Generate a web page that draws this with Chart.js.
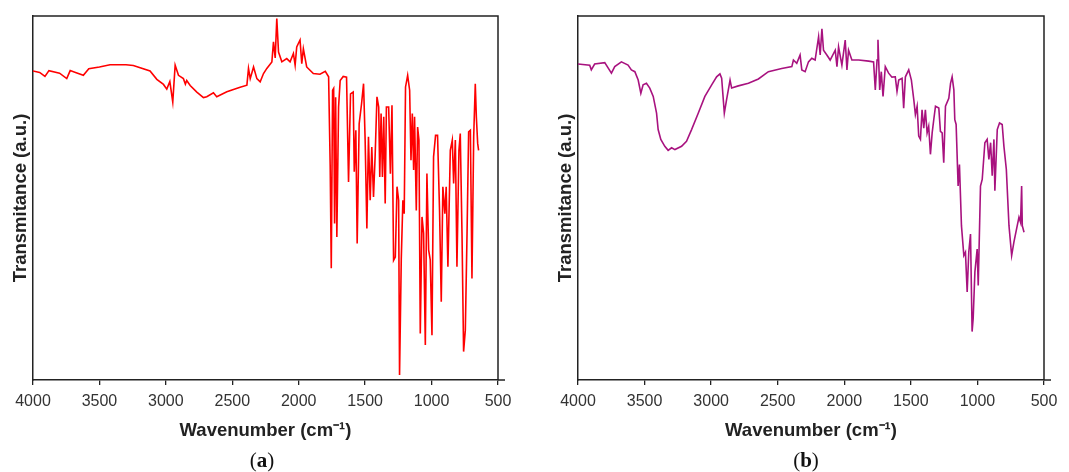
<!DOCTYPE html>
<html>
<head>
<meta charset="utf-8">
<script src="https://cdn.jsdelivr.net/npm/chart.js@4/dist/chart.umd.min.js"></script>
<style>
  html, body { margin: 0; padding: 0; background: #fff; overflow: hidden; }
  .panel { position: absolute; top: 0; width: 525px; height: 472px; }
  .panel canvas { display: block; }
  .tag {
    position: absolute; top: 448px; width: 60px; text-align: center;
    font-family: 'Liberation Serif', 'DejaVu Serif', serif; font-size: 21px; color: #111;
  }
</style>
</head>
<body>
<div class="panel" style="left:0px"><canvas id="chartA" width="525" height="472"></canvas></div>
<div class="panel" style="left:545px"><canvas id="chartB" width="525" height="472"></canvas></div>
<div class="tag" style="left:232px">(<b>a</b>)</div>
<div class="tag" style="left:776px">(<b>b</b>)</div>

<script>
// ---- data (wavenumber in cm-1, transmittance in a.u.) ----
const waveA = [4000, 3950, 3910, 3880, 3800, 3746, 3720, 3680, 3621, 3580, 3500, 3420, 3300, 3245,
  3119, 3068, 3018, 2993, 2970, 2948, 2930, 2905, 2868, 2853, 2843, 2817, 2767, 2717, 2692, 2642,
  2617, 2541, 2441, 2390, 2378, 2365, 2340, 2315, 2290, 2265, 2240, 2202, 2190, 2177, 2165, 2152,
  2127, 2090, 2065, 2040, 2027, 2015, 1990, 1977, 1965, 1940, 1890, 1840, 1800, 1775, 1763, 1755,
  1745, 1737, 1730, 1722, 1713, 1700, 1688, 1665, 1640, 1625, 1610, 1590, 1582, 1570, 1560, 1545,
  1527, 1512, 1500, 1487, 1475, 1462, 1450, 1437, 1425, 1411, 1398, 1390, 1380, 1370, 1360, 1349,
  1340, 1323, 1310, 1298, 1286, 1273, 1260, 1248, 1241, 1228, 1216, 1206, 1196, 1180, 1165, 1155,
  1145, 1135, 1128, 1115, 1105, 1095, 1085, 1072, 1060, 1047, 1035, 1022, 1010, 997, 985, 970,
  955, 940, 927, 915, 900, 890, 877, 859, 844, 834, 821, 809, 794, 784, 771, 759, 746, 733, 721,
  708, 696, 683, 671, 663, 653, 646];
const transA = [84.9, 84.5, 83.4, 85.0, 84.3, 82.8, 85.0, 84.5, 83.7, 85.5, 86.0, 86.6, 86.6, 86.4,
  84.9, 82.6, 81.2, 79.9, 82.0, 76.4, 86.5, 83.7, 82.8, 81.3, 82.3, 80.9, 79.1, 77.6, 77.8, 78.9,
  77.8, 79.2, 80.4, 81.0, 85.6, 82.8, 86.0, 82.8, 81.9, 84.2, 85.6, 87.4, 92.9, 88.5, 99.3, 90.1,
  87.4, 88.3, 87.4, 89.7, 86.5, 91.5, 93.4, 86.9, 91.0, 86.0, 84.2, 84.0, 84.8, 83.3, 58.6, 30.7,
  79.6, 80.1, 43.0, 77.7, 39.3, 75.0, 82.3, 83.4, 83.2, 54.4, 78.6, 79.1, 57.2, 68.6, 37.5, 70.4,
  75.9, 81.4, 65.9, 41.6, 66.8, 49.4, 64.0, 50.3, 61.3, 77.8, 75.0, 55.8, 73.2, 55.8, 72.3, 48.5,
  75.0, 75.0, 56.7, 75.5, 32.9, 33.8, 53.1, 49.4, 1.4, 33.3, 49.4, 45.7, 80.5, 83.7, 79.6, 60.4,
  73.2, 57.7, 72.3, 46.6, 69.5, 65.9, 12.8, 44.8, 40.3, 9.6, 56.7, 35.7, 33.0, 12.3, 61.3, 67.2,
  67.2, 46.6, 21.5, 53.1, 45.7, 53.1, 31.1, 63.1, 65.9, 54.0, 65.9, 31.1, 63.1, 67.7, 40.3, 7.8,
  13.7, 40.3, 68.2, 68.6, 27.9, 66.8, 81.4, 72.3, 65.0, 63.1];

const waveB = [4000, 3912, 3900, 3875, 3799, 3749, 3724, 3674, 3624, 3599, 3573, 3548, 3528, 3511,
  3486, 3461, 3435, 3410, 3398, 3378, 3348, 3323, 3297, 3272, 3222, 3185, 3147, 3097, 3047, 2996,
  2959, 2934, 2921, 2901, 2884, 2858, 2846, 2796, 2720, 2645, 2570, 2470, 2394, 2382, 2357, 2332,
  2319, 2294, 2269, 2244, 2219, 2193, 2181, 2168, 2156, 2131, 2106, 2068, 2055, 2043, 2018, 1993,
  1980, 1968, 1943, 1892, 1817, 1780, 1767, 1754, 1747, 1734, 1722, 1709, 1692, 1667, 1642, 1617,
  1604, 1591, 1566, 1554, 1541, 1516, 1496, 1478, 1466, 1453, 1441, 1428, 1416, 1403, 1391, 1378,
  1366, 1353, 1340, 1328, 1315, 1290, 1278, 1265, 1253, 1240, 1215, 1202, 1190, 1177, 1170, 1160,
  1145, 1135, 1120, 1102, 1090, 1077, 1065, 1052, 1040, 1032, 1019, 1002, 994, 977, 964, 944, 927,
  914, 901, 889, 876, 869, 851, 834, 814, 801, 783, 763, 743, 726, 701, 688, 676, 668, 663, 650];
const transB = [86.8, 86.5, 85.2, 86.8, 87.2, 84.3, 86.1, 87.4, 86.5, 85.2, 84.7, 82.4, 78.8, 81.1,
  81.5, 80.2, 77.9, 73.3, 68.8, 66.1, 64.2, 63.1, 63.8, 63.3, 64.2, 65.6, 68.8, 73.3, 77.9, 81.1,
  83.3, 84.1, 82.9, 73.3, 77.0, 82.4, 80.2, 80.8, 81.5, 82.7, 84.7, 85.6, 86.1, 87.9, 87.0, 89.3,
  85.2, 84.7, 87.4, 88.4, 87.9, 94.3, 89.3, 96.5, 90.6, 89.3, 87.9, 90.6, 86.1, 91.5, 86.5, 93.4,
  85.2, 90.6, 87.9, 87.9, 87.6, 87.4, 79.7, 87.9, 93.5, 79.7, 84.7, 77.9, 86.1, 84.3, 83.2, 83.3,
  79.3, 82.4, 82.9, 74.7, 83.3, 85.2, 82.4, 77.0, 72.9, 75.2, 67.0, 66.1, 74.2, 69.2, 74.2, 67.9,
  69.7, 62.0, 67.9, 71.5, 75.2, 74.7, 68.3, 67.9, 59.7, 75.2, 77.4, 81.5, 83.3, 79.7, 71.5, 70.2,
  53.3, 59.2, 42.4, 34.2, 35.1, 24.2, 35.1, 40.1, 13.3, 16.9, 29.7, 36.0, 26.0, 53.3, 55.1, 65.2,
  66.1, 60.6, 65.2, 56.1, 66.1, 52.0, 68.8, 70.6, 70.2, 64.2, 57.9, 42.4, 34.2, 37.9, 42.4, 44.7,
  43.3, 53.3, 42.4, 40.6];

const xTicks = [4000, 3500, 3000, 2500, 2000, 1500, 1000, 500];

const fontFamily = "'Liberation Sans', Arial, sans-serif";

// draws top/right frame and the little overhang of the x axis past 500
const framePlugin = {
    id: 'frame',
    afterDraw(chart) {
        const { ctx, chartArea: a } = chart;
        ctx.save();
        ctx.strokeStyle = '#222';
        ctx.lineWidth = 1.5;
        ctx.beginPath();
        ctx.moveTo(a.left, a.top);
        ctx.lineTo(a.right, a.top);
        ctx.lineTo(a.right, a.bottom);
        ctx.moveTo(a.right, a.bottom);
        ctx.lineTo(a.right + 7, a.bottom);
        ctx.stroke();
        ctx.restore();
    }
};

function makeSpectrum(id, waves, trans, color, padRight) {
    const points = waves.map((w, i) => ({ x: w, y: trans[i] }));
    return new Chart(document.getElementById(id), {
        type: 'line',
        data: {
            datasets: [{
                data: points,
                borderColor: color,
                borderWidth: 1.6,
                pointRadius: 0,
                tension: 0,
                fill: false
            }]
        },
        options: {
            responsive: false,
            animation: false,
            events: [],
            layout: { padding: { top: 16, bottom: 30, left: 0, right: padRight } },
            plugins: { legend: { display: false }, tooltip: { enabled: false } },
            scales: {
                x: {
                    type: 'linear',
                    reverse: true,
                    min: 500,
                    max: 4000,
                    afterBuildTicks: scale => { scale.ticks = xTicks.map(v => ({ value: v })); },
                    afterFit: scale => { scale.height = 62; },
                    grid: { drawOnChartArea: false, drawTicks: true, tickLength: 5, color: '#222', lineWidth: 1.3 },
                    border: { color: '#222', width: 1.5 },
                    ticks: {
                        color: '#333',
                        padding: 7,
                        maxRotation: 0,
                        autoSkip: false,
                        callback: value => String(value),
                        font: { family: fontFamily, size: 16 }
                    },
                    title: {
                        display: true,
                        text: 'Wavenumber (cm⁻¹)',
                        color: '#222',
                        padding: { top: 0, bottom: 0 },
                        font: { family: fontFamily, size: 18.5, weight: 'bold' }
                    }
                },
                y: {
                    min: 0,
                    max: 100,
                    afterFit: scale => { scale.width = 33; },
                    grid: { drawOnChartArea: false, drawTicks: false },
                    border: { color: '#222', width: 1.5 },
                    ticks: { display: false },
                    title: {
                        display: true,
                        text: 'Transmitance (a.u.)',
                        color: '#222',
                        padding: { top: 10, bottom: 0 },
                        font: { family: fontFamily, size: 18.5, weight: 'bold' }
                    }
                }
            }
        },
        plugins: [framePlugin]
    });
}

makeSpectrum('chartA', waveA, transA, '#ff0000', 27);
makeSpectrum('chartB', waveB, transB, '#a8127f', 26);
</script>
</body>
</html>
